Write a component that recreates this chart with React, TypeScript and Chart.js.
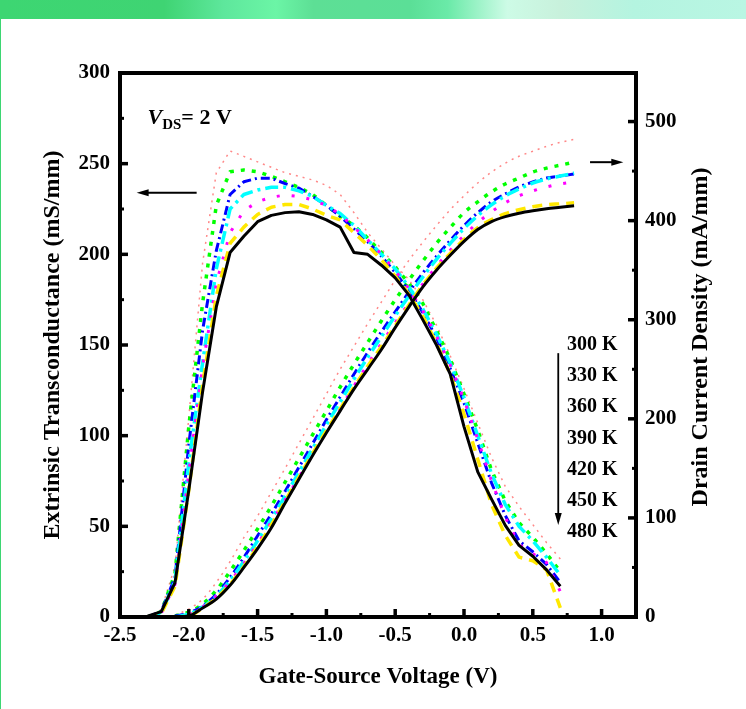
import React, { useEffect, useRef } from "react";
import { Chart, registerables } from "chart.js";
Chart.register(...registerables);

const FONT = "'Liberation Serif', 'Times New Roman', Times, serif";

// Gate-source voltage grids (V)
const VG_GM = [-2.3, -2.2, -2.1, -2.0, -1.9, -1.8, -1.7, -1.6, -1.5, -1.4, -1.3, -1.2, -1.1, -1.0, -0.9, -0.8, -0.7, -0.6, -0.5, -0.4, -0.3, -0.2, -0.1, 0.0, 0.1, 0.2, 0.3, 0.4, 0.5, 0.6, 0.7];
const VG_ID = [-2.1, -2.0, -1.9, -1.8, -1.7, -1.6, -1.5, -1.4, -1.3, -1.2, -1.1, -1.0, -0.9, -0.8, -0.7, -0.6, -0.5, -0.4, -0.3, -0.2, -0.1, 0.0, 0.1, 0.2, 0.3, 0.4, 0.5, 0.6, 0.7, 0.8];

// Extrinsic transconductance (mS/mm)
const GM_300 = [0.5, 3, 19, 70, 124, 171, 201, 210, 218, 221.5, 223, 223.5, 222, 219, 215, 201, 200, 194, 187, 177.5, 164, 150, 134, 105, 80, 65, 50.5, 39.5, 33.5, 26, 17];
const GM_330 = [0, 2, 17, 70, 128, 177, 206, 215, 222, 226, 227.5, 227.5, 225, 221.5, 219, 212, 205, 197, 188, 178, 166, 151, 134, 112, 87, 62, 45, 33, 31, 26, 5];
const GM_360 = [0, 2, 18, 80, 138, 184, 212, 224, 229, 231.5, 232.7, 232, 230, 227, 222, 215, 208, 200, 191, 181, 169, 155, 139, 120, 98, 75, 55, 40, 35, 30, 14];
const GM_390 = [0, 2, 20, 85, 140, 192, 225, 233, 235.5, 237, 237, 235, 232, 227, 222.5, 216, 208, 200, 192, 182, 170, 156, 140, 121, 100, 79, 62, 50, 42, 33, 23];
const GM_420 = [0, 3, 22, 95, 158, 202, 233, 240, 242, 242, 239, 236.5, 232, 227, 221, 214, 207, 199, 190, 180, 168, 154, 137, 118, 96, 74, 56, 42, 36, 29, 19];
const GM_450 = [0, 3, 24, 105, 173, 227, 245.6, 246.5, 245.5, 243, 240, 237, 233, 227, 221, 216, 209, 201, 193, 184, 173, 158, 142, 123, 103, 81, 64, 52, 44, 35, 25];
const GM_480 = [0, 4, 28, 110, 195, 245, 257, 254, 251, 248, 245, 243, 241, 238, 233, 223, 212, 203, 194, 186, 175, 161, 144, 126, 107, 88, 72, 61, 51, 41, 32];

// Drain current density (mA/mm)
const ID_300 = [0, 1, 9, 18, 32, 50, 69, 90, 115, 139, 163, 186, 208, 230, 250, 270, 292, 313, 333, 350, 365, 379, 391, 399, 404, 407.5, 410, 412, 413.5, 415];
const ID_330 = [0, 1, 9, 19, 33, 51, 71, 93, 117, 141, 165, 188, 210, 232, 253, 273, 294, 315, 335, 352, 367, 381, 393, 401, 407, 411, 414, 416, 417, 418];
const ID_360 = [0, 2, 10, 21, 36, 54, 74, 96, 118, 141, 164, 187, 210, 233, 255, 276, 297, 317, 336, 354, 370, 385, 398, 409, 418, 425, 430, 434, 437, 439];
const ID_390 = [0, 3, 10, 21, 37, 56, 77, 99, 122, 146, 170, 194, 217, 240, 262, 283, 304, 324, 343, 361, 377, 392, 405, 416, 425, 432, 438, 442, 445, 448];
const ID_420 = [1, 4, 11, 23, 40, 60, 82, 104, 127, 151, 175, 199, 222, 245, 267, 288, 308, 328, 347, 364, 380, 395, 408, 419, 427, 434, 439, 443, 445, 447];
const ID_450 = [1, 5, 13, 27, 46, 67, 89, 112, 136, 160, 184, 208, 232, 255, 277, 299, 320, 340, 359, 377, 393, 408, 419, 429, 437, 443, 449, 453, 456, 459];
const ID_480 = [2, 8, 18, 35, 56, 80, 102, 126, 150, 175, 200, 225, 250, 273, 296, 318, 340, 360, 378, 395, 411, 425, 438, 449, 458, 465, 470, 475, 479, 482];

const TEMPS = ["300 K", "330 K", "360 K", "390 K", "420 K", "450 K", "480 K"];

const X_TICKS = [-2.5, -2.0, -1.5, -1.0, -0.5, 0.0, 0.5, 1.0];
const GM_TICKS = [0, 50, 100, 150, 200, 250, 300];
const ID_TICKS = [0, 100, 200, 300, 400, 500];

// annotation anchors (data units)
const VDS_AT = { x: -2.3, gm: 272 };
const LEFT_ARROW = { gm: 234, from: -1.943, to: -2.379 };
const RIGHT_ARROW = { id: 459, from: 0.916, to: 1.158 };
const TEMP_LABEL_X = 0.749;
const TEMP_LABEL_GM_TOP = 150;
const TEMP_LABEL_GM_BOTTOM = 47;
const TEMP_ARROW = { x: 0.685, from: 145.5, to: 50.7 };

const STYLES = [
  { color: "#000000", width: 3, dash: [] as number[] },
  { color: "#FFE800", width: 3.5, dash: [10, 7] },
  { color: "#FF00FF", width: 3, dash: [3, 12] },
  { color: "#00FFFF", width: 3.5, dash: [13, 5, 3, 5] },
  { color: "#0000FF", width: 3, dash: [9, 4, 2, 4] },
  { color: "#00FF00", width: 3.5, dash: [4, 7] },
  { color: "#FF8888", width: 1.5, dash: [2, 5] },
];
const GM_SERIES = [GM_300, GM_330, GM_360, GM_390, GM_420, GM_450, GM_480];
const ID_SERIES = [ID_300, ID_330, ID_360, ID_390, ID_420, ID_450, ID_480];

function minors(majors: number[], max: number) {
  const out: number[] = [];
  const step = majors[1] - majors[0];
  for (let i = 0; i < majors.length; i++) {
    const m = majors[i] + step / 2;
    if (m < max - 1e-9) out.push(m);
  }
  return out;
}

function arrowHead(ctx: CanvasRenderingContext2D, x: number, y: number, dx: number, dy: number) {
  const len = 12, hw = 3.5;
  const bx = x - dx * len, by = y - dy * len;
  ctx.beginPath();
  ctx.moveTo(x, y);
  ctx.lineTo(bx - dy * hw, by + dx * hw);
  ctx.lineTo(bx + dy * hw, by - dx * hw);
  ctx.closePath();
  ctx.fill();
}

const framePlugin = {
  id: "frame",
  afterDraw(chart: any) {
    const { ctx, chartArea: a, scales } = chart;
    const xs = scales.x, ys = scales.y, ys1 = scales.y1;
    ctx.save();
    ctx.strokeStyle = "#000";
    ctx.fillStyle = "#000";
    const tick = (x1: number, y1: number, x2: number, y2: number, w: number) => {
      ctx.lineWidth = w;
      ctx.beginPath();
      ctx.moveTo(x1, y1);
      ctx.lineTo(x2, y2);
      ctx.stroke();
    };
    X_TICKS.forEach((v) => { const p = xs.getPixelForValue(v); tick(p, a.bottom, p, a.bottom - 8, 3.5); });
    minors(X_TICKS, 1.25).forEach((v) => { const p = xs.getPixelForValue(v); tick(p, a.bottom, p, a.bottom - 4, 3); });
    GM_TICKS.forEach((v) => { const p = ys.getPixelForValue(v); tick(a.left, p, a.left + 8, p, 3.5); });
    minors(GM_TICKS, 300).forEach((v) => { const p = ys.getPixelForValue(v); tick(a.left, p, a.left + 4, p, 3); });
    ID_TICKS.forEach((v) => { const p = ys1.getPixelForValue(v); tick(a.right, p, a.right - 8, p, 3.5); });
    minors(ID_TICKS, 549).forEach((v) => { const p = ys1.getPixelForValue(v); tick(a.right, p, a.right - 4, p, 3); });
    ctx.lineWidth = 4;
    ctx.lineJoin = "miter";
    ctx.strokeRect(a.left, a.top, a.right - a.left, a.bottom - a.top);

    // right axis title (reads bottom to top)
    ctx.save();
    ctx.translate(701, (a.top + a.bottom) / 2 - 8);
    ctx.rotate(-Math.PI / 2);
    ctx.font = `bold 24px ${FONT}`;
    ctx.textAlign = "center";
    ctx.textBaseline = "middle";
    ctx.fillText("Drain Current Density (mA/mm)", 0, 0);
    ctx.restore();

    // V_DS label
    let vx = xs.getPixelForValue(VDS_AT.x);
    const vy = ys.getPixelForValue(VDS_AT.gm);
    ctx.textAlign = "left";
    ctx.textBaseline = "alphabetic";
    ctx.font = `italic bold 22px ${FONT}`;
    ctx.fillText("V", vx, vy);
    vx += ctx.measureText("V").width;
    ctx.font = `bold 15px ${FONT}`;
    ctx.fillText("DS", vx, vy + 5);
    vx += ctx.measureText("DS").width;
    ctx.font = `bold 22px ${FONT}`;
    ctx.fillText("= 2 V", vx, vy);

    // arrows
    let y0 = ys.getPixelForValue(LEFT_ARROW.gm);
    let x0 = xs.getPixelForValue(LEFT_ARROW.from), x1 = xs.getPixelForValue(LEFT_ARROW.to);
    tick(x0, y0, x1 + 6, y0, 2);
    arrowHead(ctx, x1, y0, -1, 0);
    y0 = ys1.getPixelForValue(RIGHT_ARROW.id);
    x0 = xs.getPixelForValue(RIGHT_ARROW.from); x1 = xs.getPixelForValue(RIGHT_ARROW.to);
    tick(x0, y0, x1 - 6, y0, 2);
    arrowHead(ctx, x1, y0, 1, 0);
    const ax = xs.getPixelForValue(TEMP_ARROW.x);
    const ay0 = ys.getPixelForValue(TEMP_ARROW.from), ay1 = ys.getPixelForValue(TEMP_ARROW.to);
    tick(ax, ay0, ax, ay1 - 6, 1.8);
    arrowHead(ctx, ax, ay1, 0, 1);

    // temperature labels
    ctx.font = `bold 20px ${FONT}`;
    ctx.textBaseline = "middle";
    const tx = xs.getPixelForValue(TEMP_LABEL_X);
    TEMPS.forEach((t, i) => {
      const g = TEMP_LABEL_GM_TOP + (TEMP_LABEL_GM_BOTTOM - TEMP_LABEL_GM_TOP) * (i / (TEMPS.length - 1));
      ctx.fillText(t, tx, ys.getPixelForValue(g));
    });
    ctx.restore();
  },
};

export default function App() {
  const ref = useRef<HTMLCanvasElement | null>(null);
  useEffect(() => {
    if (!ref.current) return;
    const datasets: any[] = [];
    STYLES.forEach((s, k) => {
      const common = {
        borderColor: s.color,
        borderWidth: s.width,
        borderDash: s.dash,
        pointRadius: 0,
        fill: false,
        borderCapStyle: "butt",
        borderJoinStyle: "round",
      };
      datasets.push({ ...common, label: TEMPS[k] + " gm", yAxisID: "y", tension: 0, data: VG_GM.map((v, i) => ({ x: v, y: GM_SERIES[k][i] })) });
      datasets.push({ ...common, label: TEMPS[k] + " Id", yAxisID: "y1", cubicInterpolationMode: "monotone", data: VG_ID.map((v, i) => ({ x: v, y: ID_SERIES[k][i] })) });
    });
    const tickFont = { family: FONT, size: 21, weight: "bold" as const };
    const chart = new Chart(ref.current, {
      type: "line",
      data: { datasets },
      options: {
        responsive: false,
        animation: false,
        devicePixelRatio: 1,
        layout: { padding: { top: 73, left: 0, right: 0, bottom: 0 } },
        plugins: { legend: { display: false }, tooltip: { enabled: false }, title: { display: false } },
        scales: {
          x: {
            type: "linear",
            position: "bottom",
            min: -2.5,
            max: 1.25,
            grid: { display: false, drawTicks: false },
            border: { display: false },
            afterBuildTicks: (s: any) => { s.ticks = X_TICKS.map((v) => ({ value: v })); },
            afterFit: (s: any) => { s.height = 92; },
            ticks: { font: tickFont, color: "#000", padding: 6, maxRotation: 0, autoSkip: false, callback: (v: any) => Number(v).toFixed(1) },
            title: { display: true, text: "Gate-Source Voltage (V)", font: { family: FONT, size: 23, weight: "bold" }, color: "#000", padding: { top: 0, bottom: 18 } },
          },
          y: {
            type: "linear",
            position: "left",
            min: 0,
            max: 300,
            grid: { display: false, drawTicks: false },
            border: { display: false },
            afterBuildTicks: (s: any) => { s.ticks = GM_TICKS.map((v) => ({ value: v })); },
            afterFit: (s: any) => { s.width = 120; },
            ticks: { font: tickFont, color: "#000", padding: 10, callback: (v: any) => String(v) },
            title: { display: true, text: "Extrinsic Transconductance (mS/mm)", font: { family: FONT, size: 24, weight: "bold" }, color: "#000", padding: { top: 38, bottom: 0 } },
          },
          y1: {
            type: "linear",
            position: "right",
            min: 0,
            max: 549,
            grid: { display: false, drawTicks: false },
            border: { display: false },
            afterBuildTicks: (s: any) => { s.ticks = ID_TICKS.map((v) => ({ value: v })); },
            afterFit: (s: any) => { s.width = 110; },
            ticks: { font: tickFont, color: "#000", padding: 9, callback: (v: any) => String(v) },
            title: { display: false },
          },
        },
      } as any,
      plugins: [framePlugin],
    });
    return () => chart.destroy();
  }, []);

  return (
    <div style={{ position: "absolute", left: 0, top: 0, width: 746, height: 709, background: "#fff", overflow: "hidden" }}>
      <div
        style={{
          position: "absolute", left: 0, top: 0, width: 746, height: 19,
          background: "linear-gradient(90deg, #3dd672 0%, #3fd473 22%, #5ee79c 30%, #6bf5a6 37%, #5ddf95 42%, #5bdf97 55%, #6aeaa8 60%, #cdfbe6 68%, #c8f1dc 75%, #b4f4e0 85%, #b9f6e3 100%)",
        }}
      />
      <div style={{ position: "absolute", left: 0, top: 0, width: 1, height: 709, background: "#3dd672" }} />
      <canvas ref={ref} width={746} height={709} style={{ position: "absolute", left: 0, top: 0, display: "block" }} />
    </div>
  );
}
